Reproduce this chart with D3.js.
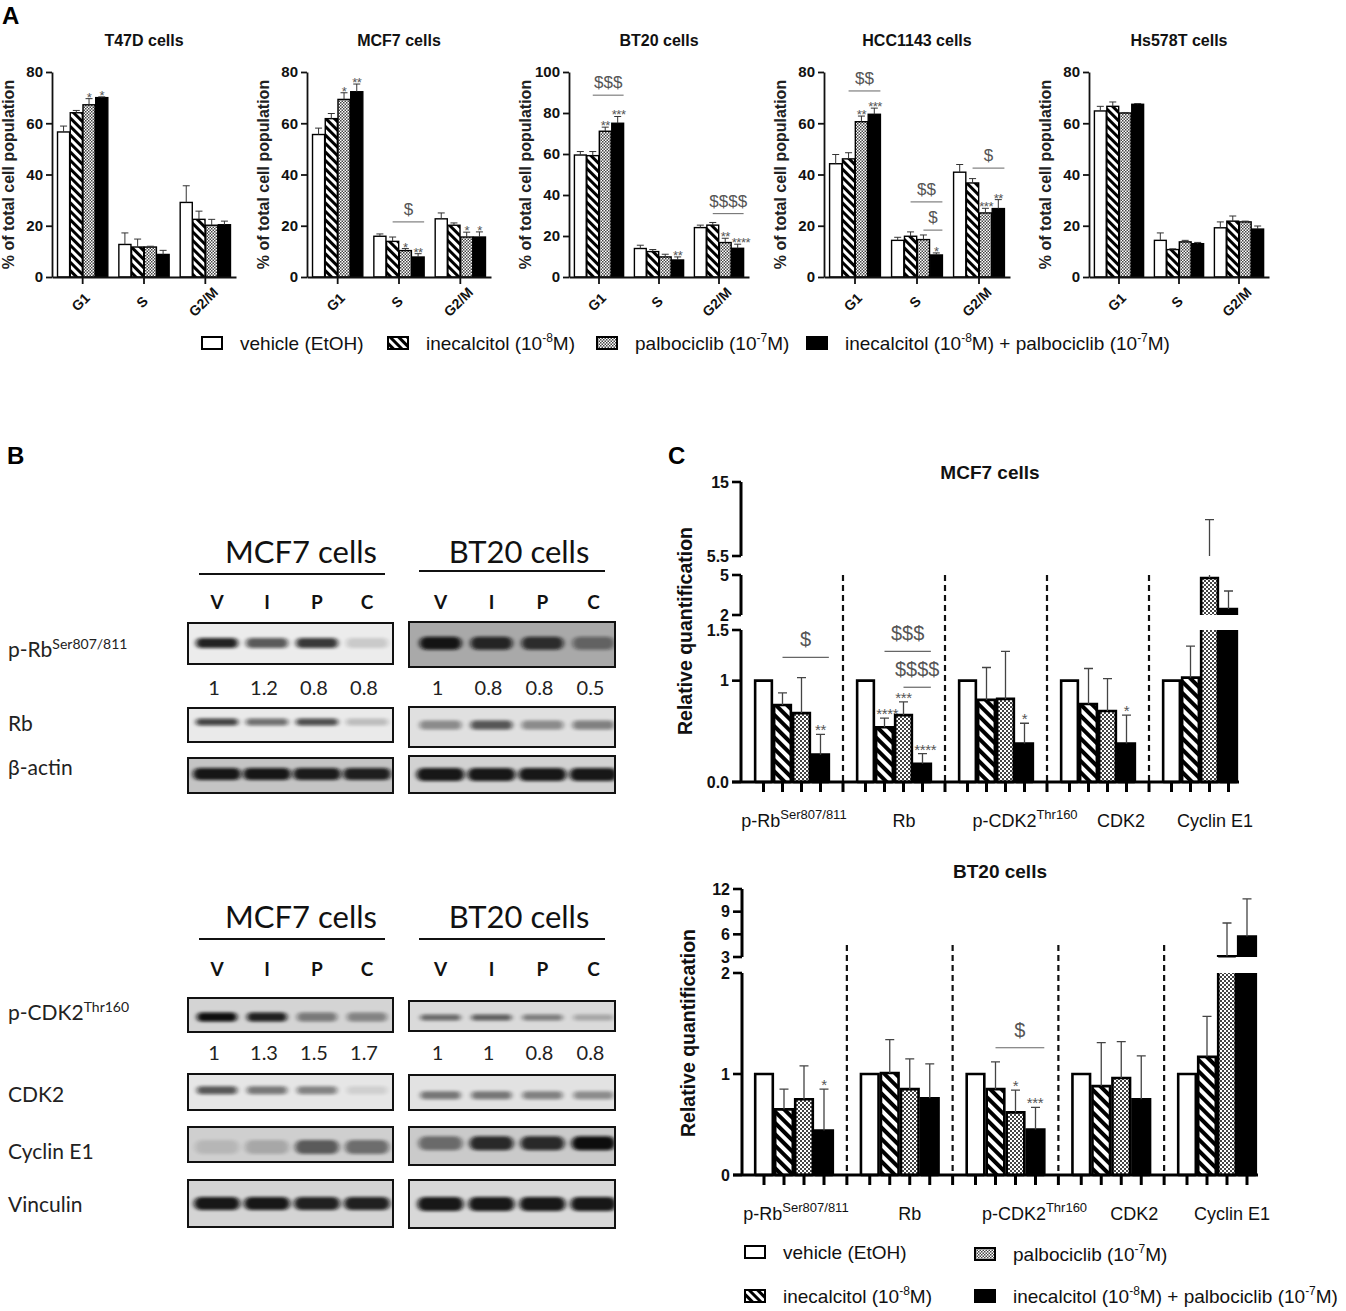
<!DOCTYPE html>
<html>
<meta charset="utf-8" />
<script src="https://d3js.org/d3.v7.min.js"></script>
<body>
<div id="fig"></div>
<script>
// ---------------- panel A data ----------------
var phases = ["G1", "S", "G2/M"];
var cellLinesA = ["T47D cells", "MCF7 cells", "BT20 cells", "HCC1143 cells", "Hs578T cells"];
var yMaxA = [80, 80, 100, 80, 80];

var t47dMean = [[56.6, 64.1, 67.2, 70.0], [12.7, 11.7, 11.7, 8.8], [29.1, 22.5, 20.2, 20.4]];
var t47dSem = [[2.3, 0.9, 2.4, 0.3], [4.5, 3.1, 0.3, 1.6], [6.5, 3.2, 2.3, 1.4]];
var t47dStars = [["", "", "*", "*"], ["", "", "", ""], ["", "", "", ""]];
var t47dDollars = [];

var mcf7Mean = [[55.6, 61.8, 69.3, 72.3], [15.9, 13.9, 10.3, 7.8], [22.7, 20.2, 15.6, 15.6]];
var mcf7Sem = [[2.5, 2.0, 2.6, 3.0], [0.9, 1.7, 0.8, 1.3], [2.3, 0.9, 1.9, 2.0]];
var mcf7Stars = [["", "", "*", "**"], ["", "", "*", "**"], ["", "", "*", "*"]];
var mcf7Dollars = [{phase: "S", from: 1, to: 3, y: 21.5, label: "$"}];

var bt20Mean = [[59.5, 59.2, 71.1, 75.0], [13.9, 12.4, 9.8, 8.3], [24.1, 25.3, 16.8, 14.0]];
var bt20Sem = [[1.7, 2.0, 2.0, 3.3], [1.6, 1.0, 1.3, 1.5], [1.2, 1.3, 2.1, 2.0]];
var bt20Stars = [["", "", "**", "***"], ["", "", "", "**"], ["", "", "**", "****"]];
var bt20Dollars = [{phase: "G1", from: 1, to: 3, y: 88.7, label: "$$$"},
                   {phase: "G2/M", from: 1, to: 3, y: 30.9, label: "$$$$"}];

var hccMean = [[44.2, 46.1, 60.6, 63.5], [14.3, 15.9, 14.6, 8.6], [40.9, 36.7, 25.0, 26.7]];
var hccSem = [[3.6, 2.4, 2.2, 2.4], [1.2, 1.7, 1.8, 0.8], [3.0, 1.7, 1.8, 3.5]];
var hccStars = [["", "", "**", "***"], ["", "", "", "*"], ["", "", "***", "**"]];
var hccDollars = [{phase: "G1", from: 1, to: 3, y: 72.6, label: "$$"},
                  {phase: "S", from: 1, to: 3, y: 29.3, label: "$$"},
                  {phase: "S", from: 2, to: 3, y: 18.3, label: "$"},
                  {phase: "G2/M", from: 1, to: 3, y: 42.5, label: "$"}];

var hsMean = [[64.8, 66.6, 64.0, 67.4], [14.3, 10.7, 13.7, 13.0], [19.2, 21.8, 21.5, 18.7]];
var hsSem = [[1.8, 1.7, 0.2, 0.3], [2.9, 0.3, 0.6, 0.5], [2.3, 2.0, 0.3, 1.2]];
var hsStars = [["", "", "", ""], ["", "", "", ""], ["", "", "", ""]];
var hsDollars = [];

var legendLabels = [["vehicle (EtOH)"], ["inecalcitol (10", "-8", "M)"], ["palbociclib (10", "-7", "M)"],
                    ["inecalcitol (10", "-8", "M) + palbociclib (10", "-7", "M)"]];

// ---------------- panel B data ----------------
var lanes = ["V", "I", "P", "C"];
var cellsB = ["MCF7 cells", "BT20 cells"];
// band darkness per lane (0 = no band, 1 = black)
var pRbMcf7 = [0.9, 0.65, 0.8, 0.15];
var pRbBt20 = [0.95, 0.85, 0.8, 0.45];
var rbMcf7 = [0.75, 0.55, 0.7, 0.2];
var rbBt20 = [0.4, 0.65, 0.4, 0.45];
var actinMcf7 = [0.95, 0.95, 0.92, 0.9];
var actinBt20 = [0.95, 0.95, 0.95, 0.95];
var pCdk2Mcf7 = [1, 0.9, 0.45, 0.4];
var pCdk2Bt20 = [0.55, 0.6, 0.45, 0.25];
var cdk2Mcf7 = [0.65, 0.5, 0.45, 0.1];
var cdk2Bt20 = [0.5, 0.5, 0.45, 0.4];
var cycMcf7 = [0.12, 0.2, 0.6, 0.5];
var cycBt20 = [0.5, 0.85, 0.85, 1];
var vincMcf7 = [0.95, 0.95, 0.9, 0.9];
var vincBt20 = [0.95, 0.95, 0.95, 0.95];
var pRbRatioMcf7 = ["1", "1.2", "0.8", "0.8"];
var pRbRatioBt20 = ["1", "0.8", "0.8", "0.5"];
var pCdk2RatioMcf7 = ["1", "1.3", "1.5", "1.7"];
var pCdk2RatioBt20 = ["1", "1", "0.8", "0.8"];

// ---------------- panel C data ----------------
var proteinsC = ["p-Rb", "Rb", "p-CDK2", "CDK2", "Cyclin E1"];
var proteinLabelsC = [["p-Rb", "Ser807/811"], ["Rb"], ["p-CDK2", "Thr160"], ["CDK2"], ["Cyclin E1"]];

var mcf7CMean = [[1, 0.76, 0.68, 0.27], [1, 0.54, 0.66, 0.18], [1, 0.81, 0.82, 0.38], [1, 0.77, 0.70, 0.38], [1, 1.03, 4.77, 2.45]];
var mcf7CSem = [[0, 0.12, 0.35, 0.20], [0, 0.09, 0.13, 0.10], [0, 0.32, 0.47, 0.20], [0, 0.35, 0.32, 0.28], [0, 0.31, 5.4, 1.35]];
var mcf7CStars = [["", "", "", "**"], ["", "****", "***", "****"], ["", "", "", "*"], ["", "", "", "*"], ["", "", "", ""]];
var mcf7CDollars = [{g: "p-Rb", from: 1, to: 3, y: 1.23, label: "$"},
                    {g: "Rb", from: 1, to: 3, y: 1.29, label: "$$$"},
                    {g: "Rb", from: 2, to: 3, y: 0.935, label: "$$$$"}];
var mcf7CDomains = [[0, 1.5], [2, 5], [5.5, 15]];
var mcf7CTicks = [[0, 1, 1.5], [2, 5], [5.5, 15]];
var mcf7CTickLabels = [["0.0", "1", "1.5"], ["2", "5"], ["5.5", "15"]];

var bt20CMean = [[1, 0.65, 0.75, 0.44], [1, 1.01, 0.85, 0.76], [1, 0.85, 0.62, 0.45], [1, 0.88, 0.96, 0.75], [1, 1.17, 3.1, 5.7]];
var bt20CSem = [[0, 0.20, 0.33, 0.41], [0, 0.33, 0.30, 0.34], [0, 0.27, 0.22, 0.22], [0, 0.43, 0.36, 0.43], [0, 0.40, 4.4, 5.0]];
var bt20CStars = [["", "", "", "*"], ["", "", "", ""], ["", "", "*", "***"], ["", "", "", ""], ["", "", "", ""]];
var bt20CDollars = [{g: "p-CDK2", from: 1, to: 3, y: 1.26, label: "$"}];
var bt20CDomains = [[0, 2], [3, 12]];
var bt20CTicks = [[0, 1, 2], [3, 6, 9, 12]];
var bt20CTickLabels = [["0", "1", "2"], ["3", "6", "9", "12"]];

// ---------------- setup ----------------
var svg = d3.select("#fig").append("svg")
  .attr("width", 1346).attr("height", 1311)
  .style("font-family", "'Liberation Sans', Arial, sans-serif");
var defs = svg.append("defs");

function hatchPattern(id, size, stripe) {
  var p = defs.append("pattern").attr("id", id).attr("patternUnits", "userSpaceOnUse")
    .attr("width", size).attr("height", size).attr("patternTransform", "rotate(-45)");
  p.append("rect").attr("width", size).attr("height", size).attr("fill", "#fff");
  p.append("rect").attr("width", stripe).attr("height", size).attr("fill", "#000");
}
function checkPattern(id, s, col) {
  var p = defs.append("pattern").attr("id", id).attr("patternUnits", "userSpaceOnUse")
    .attr("width", 2 * s).attr("height", 2 * s);
  p.append("rect").attr("width", 2 * s).attr("height", 2 * s).attr("fill", "#fff");
  p.append("rect").attr("width", s).attr("height", s).attr("fill", col);
  p.append("rect").attr("x", s).attr("y", s).attr("width", s).attr("height", s).attr("fill", col);
}
hatchPattern("hatchA", 6, 3);
hatchPattern("hatchC", 8, 4);
checkPattern("checkA", 1.5, "#444");
checkPattern("checkC", 2, "#444");
defs.append("filter").attr("id", "blur").attr("x", "-30%").attr("y", "-150%")
  .attr("width", "160%").attr("height", "400%")
  .append("feGaussianBlur").attr("stdDeviation", "2.5 1.8");

var fillA = ["#fff", "url(#hatchA)", "url(#checkA)", "#000"];
var fillC = ["#fff", "url(#hatchC)", "url(#checkC)", "#000"];

// text with superscripts: odd parts are raised
function rich(sel, parts, supSize, rise) {
  parts.forEach(function(t, k) {
    var ts = sel.append("tspan").text(t);
    if (k % 2 === 1) ts.attr("font-size", supSize).attr("dy", -rise);
    else if (k > 0) ts.attr("dy", rise);
  });
}

// long runs of stars start at the bar's left edge, short ones are centred
function starX(left, width, s) { return s.length >= 3 ? left : left + width / 2; }
function starAnchor(s) { return s.length >= 3 ? "start" : "middle"; }

function panelLetter(t, x, y) {
  svg.append("text").attr("x", x).attr("y", y).attr("font-size", 24).attr("font-weight", "bold").text(t);
}
panelLetter("A", 2, 24);
panelLetter("B", 7, 464);
panelLetter("C", 668, 464);

// ---------------- panel A ----------------
var A_TOP = 72, A_BOT = 277;
var axisXA = [52, 307, 569, 824, 1089];
var widthA = [184, 184, 180, 186, 180];
var meansA = [t47dMean, mcf7Mean, bt20Mean, hccMean, hsMean];
var semsA = [t47dSem, mcf7Sem, bt20Sem, hccSem, hsSem];
var starsA = [t47dStars, mcf7Stars, bt20Stars, hccStars, hsStars];
var dollarsA = [t47dDollars, mcf7Dollars, bt20Dollars, hccDollars, hsDollars];

cellLinesA.forEach(function(name, i) {
  var x0 = axisXA[i], w = widthA[i];
  var g = svg.append("g").attr("transform", "translate(" + x0 + ",0)");
  var x = d3.scaleBand().domain(phases).range([0, w]).paddingInner(0.18).paddingOuter(0.09);
  var xb = d3.scaleBand().domain(d3.range(4)).range([0, x.bandwidth()]).paddingInner(0.05);
  var y = d3.scaleLinear().domain([0, yMaxA[i]]).range([A_BOT, A_TOP]);

  var rows = [];
  phases.forEach(function(ph, p) {
    d3.range(4).forEach(function(t) {
      rows.push({ph: ph, t: t, v: meansA[i][p][t], e: semsA[i][p][t], s: starsA[i][p][t]});
    });
  });
  var bl = function(d) { return x(d.ph) + xb(d.t); };
  var cx = function(d) { return bl(d) + xb.bandwidth() / 2; };

  g.selectAll("rect.bar").data(rows).join("rect").attr("class", "bar")
    .attr("x", bl)
    .attr("y", function(d) { return y(d.v); })
    .attr("width", xb.bandwidth())
    .attr("height", function(d) { return A_BOT - y(d.v); })
    .attr("fill", function(d) { return fillA[d.t]; })
    .attr("stroke", "#000").attr("stroke-width", 1.4);

  g.selectAll("path.err").data(rows.filter(function(d) { return d.e > 0; })).join("path").attr("class", "err")
    .attr("d", function(d) {
      var c = cx(d), t = y(d.v + d.e);
      return "M" + c + "," + y(d.v) + "V" + t + "M" + (c - 3.5) + "," + t + "H" + (c + 3.5);
    })
    .attr("stroke", "#333").attr("stroke-width", 1).attr("fill", "none");

  g.selectAll("text.star").data(rows.filter(function(d) { return d.s; })).join("text").attr("class", "star")
    .attr("x", function(d) { return starX(bl(d), xb.bandwidth(), d.s); })
    .attr("y", function(d) { return y(d.v + d.e) + 3; })
    .attr("text-anchor", function(d) { return starAnchor(d.s); })
    .attr("font-size", 13).attr("letter-spacing", -0.5).attr("fill", "#555")
    .text(function(d) { return d.s; });

  g.selectAll("g.dollar").data(dollarsA[i]).join("g").attr("class", "dollar").each(function(d) {
    var xa = x(d.phase) + xb(d.from) + xb.bandwidth() / 2;
    var xe = x(d.phase) + xb(d.to) + xb.bandwidth();
    var sel = d3.select(this);
    sel.append("line").attr("x1", xa).attr("x2", xe).attr("y1", y(d.y)).attr("y2", y(d.y))
      .attr("stroke", "#666").attr("stroke-width", 1);
    sel.append("text").attr("x", (xa + xe) / 2).attr("y", y(d.y) - 7).attr("text-anchor", "middle")
      .attr("font-size", 17).attr("fill", "#555").text(d.label);
  });

  var ya = g.append("g")
    .call(d3.axisLeft(y).tickValues(d3.range(0, yMaxA[i] + 1, 20)).tickSize(6).tickSizeOuter(0).tickPadding(3));
  var xa = g.append("g").attr("transform", "translate(0," + A_BOT + ")")
    .call(d3.axisBottom(x).tickSize(7).tickSizeOuter(0));
  [ya, xa].forEach(function(a) {
    a.attr("font-family", null).attr("font-size", null);
    a.selectAll("path, line").attr("stroke", "#111").attr("stroke-width", 1.8);
    a.selectAll("text").attr("font-size", 15).attr("font-weight", "bold").attr("fill", "#111");
  });
  xa.selectAll("text").attr("x", 0).attr("y", 0).attr("dy", "0.35em").attr("text-anchor", "middle")
    .attr("font-size", 14).attr("transform", "translate(-2,25) rotate(-45)");

  svg.append("text").attr("transform", "translate(" + (x0 - 38) + "," + (A_TOP + A_BOT) / 2 + ") rotate(-90)")
    .attr("text-anchor", "middle").attr("font-size", 16).attr("font-weight", "bold").attr("fill", "#222")
    .text("% of total cell population");
  svg.append("text").attr("x", x0 + w / 2).attr("y", 46).attr("text-anchor", "middle")
    .attr("font-size", 16).attr("font-weight", "bold").attr("fill", "#111").text(name);
});

function legendItem(bx, by, fill, parts) {
  svg.append("rect").attr("x", bx).attr("y", by - 6).attr("width", 20).attr("height", 12)
    .attr("fill", fill).attr("stroke", "#000").attr("stroke-width", 2);
  var t = svg.append("text").attr("x", bx + 38).attr("y", by + 7).attr("font-size", 19).attr("fill", "#111");
  rich(t, parts, 12, 8);
}
var legAx = [202, 388, 597, 807];
legendLabels.forEach(function(l, k) { legendItem(legAx[k], 343, fillA[k], l); });

// ---------------- panel B ----------------
var fontB = "Lato, 'Open Sans', sans-serif";
var laneScaleB = [d3.scaleBand().domain(lanes).range([192, 392]), d3.scaleBand().domain(lanes).range([415, 619])];
var boxXB = [[188, 393], [409, 615]];

var blotRows = [
  {label: ["p-Rb", "Ser807/811"], ly: 657, box: [[623, 41], [622, 45]], bg: ["#ececec", "#a9a9a9"],
   bands: [pRbMcf7, pRbBt20], frac: [0.49, 0.47], bh: [10, 13], bw: 42},
  {label: ["Rb"], ly: 731, box: [[708, 34], [707, 40]], bg: ["#eaeaea", "#e0e0e0"],
   bands: [rbMcf7, rbBt20], frac: [0.41, 0.45], bh: [7, 9], bw: 42},
  {label: ["β-actin"], ly: 775, box: [[758, 35], [756, 37]], bg: ["#c4c4c4", "#d2d2d2"],
   bands: [actinMcf7, actinBt20], frac: [0.46, 0.5], bh: [12, 13], bw: 48},
  {label: ["p-CDK2", "Thr160"], ly: 1020, box: [[998, 34], [1001, 30]], bg: ["#d4d4d4", "#dadada"],
   bands: [pCdk2Mcf7, pCdk2Bt20], frac: [0.56, 0.55], bh: [9, 6], bw: 40},
  {label: ["CDK2"], ly: 1102, box: [[1074, 36], [1075, 35]], bg: ["#e6e6e6", "#e2e2e2"],
   bands: [cdk2Mcf7, cdk2Bt20], frac: [0.45, 0.58], bh: [8, 8], bw: 40},
  {label: ["Cyclin E1"], ly: 1159, box: [[1127, 35], [1127, 38]], bg: ["#cfcfcf", "#cacaca"],
   bands: [cycMcf7, cycBt20], frac: [0.57, 0.43], bh: [14, 14], bw: 44},
  {label: ["Vinculin"], ly: 1212, box: [[1180, 47], [1180, 48]], bg: ["#d4d4d4", "#d8d8d8"],
   bands: [vincMcf7, vincBt20], frac: [0.5, 0.5], bh: [13, 14], bw: 46}
];

blotRows.forEach(function(r, ri) {
  var lab = svg.append("text").attr("x", 8).attr("y", r.ly).attr("font-family", fontB)
    .attr("font-size", 21).attr("fill", "#222");
  rich(lab, r.label, 14, 8);
  [0, 1].forEach(function(s) {
    var bx = boxXB[s], by = r.box[s][0], bh = r.box[s][1];
    var id = "clipB" + ri + "_" + s;
    defs.append("clipPath").attr("id", id).append("rect")
      .attr("x", bx[0]).attr("y", by).attr("width", bx[1] - bx[0]).attr("height", bh);
    var g = svg.append("g").attr("clip-path", "url(#" + id + ")");
    g.append("rect").attr("x", bx[0]).attr("y", by).attr("width", bx[1] - bx[0]).attr("height", bh)
      .attr("fill", r.bg[s]);
    var lane = laneScaleB[s];
    g.selectAll("rect.band").data(lanes).join("rect").attr("class", "band")
      .attr("x", function(d) { return lane(d) + lane.bandwidth() / 2 - r.bw / 2; })
      .attr("y", by + bh * r.frac[s] - r.bh[s] / 2)
      .attr("width", r.bw).attr("height", r.bh[s]).attr("rx", r.bh[s] / 2)
      .attr("fill", "#0a0a0a").attr("opacity", function(d, k) { return r.bands[s][k]; })
      .attr("filter", "url(#blur)");
    svg.append("rect").attr("x", bx[0]).attr("y", by).attr("width", bx[1] - bx[0]).attr("height", bh)
      .attr("fill", "none").attr("stroke", "#111").attr("stroke-width", 2);
  });
});

var headersB = [{ty: 563, ly: [574, 571], vy: 609}, {ty: 928, ly: [939, 939], vy: 976}];
var headerLineX = [[199, 385], [419, 605]];
var headerTitleX = [301, 519];
headersB.forEach(function(h) {
  cellsB.forEach(function(c, s) {
    svg.append("text").attr("x", headerTitleX[s]).attr("y", h.ty).attr("text-anchor", "middle")
      .attr("font-family", fontB).attr("font-size", 31).attr("fill", "#111").text(c);
    svg.append("line").attr("x1", headerLineX[s][0]).attr("x2", headerLineX[s][1])
      .attr("y1", h.ly[s]).attr("y2", h.ly[s]).attr("stroke", "#111").attr("stroke-width", 2);
    var lane = laneScaleB[s];
    svg.selectAll(null).data(lanes).join("text")
      .attr("x", function(d) { return lane(d) + lane.bandwidth() / 2; }).attr("y", h.vy)
      .attr("text-anchor", "middle").attr("font-family", fontB).attr("font-weight", "bold")
      .attr("font-size", 19).attr("fill", "#111").text(function(d) { return d; });
  });
});

var ratioRows = [{y: 695, vals: [pRbRatioMcf7, pRbRatioBt20]}, {y: 1060, vals: [pCdk2RatioMcf7, pCdk2RatioBt20]}];
ratioRows.forEach(function(rr) {
  [0, 1].forEach(function(s) {
    var lane = laneScaleB[s];
    svg.selectAll(null).data(lanes).join("text")
      .attr("x", function(d) { return lane(d) + lane.bandwidth() / 2 - 3; }).attr("y", rr.y)
      .attr("text-anchor", "middle").attr("font-family", fontB).attr("font-size", 20).attr("fill", "#222")
      .text(function(d, k) { return rr.vals[s][k]; });
  });
});

// ---------------- panel C ----------------
var labelNudgeC = [2, 10, 29, 23, 15];

function chartC(o) {
  var gx = d3.scaleBand().domain(proteinsC).range(o.xr).paddingInner(o.pi).paddingOuter(0);
  var xb = d3.scaleBand().domain(d3.range(4)).range([0, gx.bandwidth()]).paddingInner(0.12).paddingOuter(0.06);
  var segs = o.domains.map(function(d, k) { return d3.scaleLinear().domain(d).range(o.ranges[k]); });
  var y0 = segs[0](0);
  var g = svg.append("g");
  var bw = xb.bandwidth();

  var rows = [];
  proteinsC.forEach(function(p, gi) {
    d3.range(4).forEach(function(t) {
      rows.push({p: p, t: t, v: o.mean[gi][t], e: o.sem[gi][t], s: o.stars[gi][t]});
    });
  });
  var bx = function(d) { return gx(d.p) + xb(d.t); };

  // dividers
  var divX = proteinsC.slice(0, 4).map(function(p) {
    return gx(p) + gx.bandwidth() + (gx.step() - gx.bandwidth()) / 2;
  });
  g.selectAll("line.div").data(divX).join("line").attr("class", "div")
    .attr("x1", function(d) { return d; }).attr("x2", function(d) { return d; })
    .attr("y1", o.divTop).attr("y2", y0)
    .attr("stroke", "#111").attr("stroke-width", 2.2).attr("stroke-dasharray", "6,4");

  rows.forEach(function(d) {
    var x = bx(d);
    segs.forEach(function(sc) {
      var dom = sc.domain();
      if (d.v > dom[0]) {
        var top = Math.min(d.v, dom[1]);
        var yb = sc(dom[0]), yt = sc(top);
        var capTop = d.v <= dom[1], capBot = dom[0] === 0;
        g.append("rect").attr("x", x).attr("y", yt).attr("width", bw).attr("height", yb - yt)
          .attr("fill", fillC[d.t]);
        var path = capTop ? "M" + x + "," + yb + "V" + yt + "H" + (x + bw) + "V" + yb
                          : "M" + x + "," + yb + "V" + yt + "M" + (x + bw) + "," + yt + "V" + yb;
        if (capBot) path += "M" + x + "," + yb + "H" + (x + bw);
        g.append("path").attr("d", path).attr("fill", "none").attr("stroke", "#000").attr("stroke-width", 2.6);
      }
      if (d.e > 0) {
        var e1 = d.v + d.e;
        if (e1 > dom[0] && d.v < dom[1]) {
          var a = Math.max(d.v, dom[0]), b = Math.min(e1, dom[1]);
          var c = x + bw / 2;
          var ep = "M" + c + "," + sc(a) + "V" + sc(b);
          if (e1 <= dom[1]) ep += "M" + (c - 4.5) + "," + sc(b) + "H" + (c + 4.5);
          g.append("path").attr("d", ep).attr("fill", "none").attr("stroke", "#444").attr("stroke-width", 1.3);
        }
      }
    });
  });

  var valToY = function(v) {
    for (var k = 0; k < segs.length; k++) {
      if (v <= segs[k].domain()[1]) return segs[k](Math.max(v, segs[k].domain()[0]));
    }
    return segs[segs.length - 1](v);
  };

  g.selectAll("text.star").data(rows.filter(function(d) { return d.s; })).join("text").attr("class", "star")
    .attr("x", function(d) { return starX(bx(d), bw, d.s); })
    .attr("y", function(d) { return valToY(d.v + d.e) + 1; })
    .attr("text-anchor", function(d) { return starAnchor(d.s); })
    .attr("font-size", 15).attr("letter-spacing", -0.3).attr("fill", "#555")
    .text(function(d) { return d.s; });

  o.dollars.forEach(function(d) {
    var xa = gx(d.g) + xb(d.from) + bw / 2, xe = gx(d.g) + xb(d.to) + bw;
    var yy = valToY(d.y);
    g.append("line").attr("x1", xa).attr("x2", xe).attr("y1", yy).attr("y2", yy)
      .attr("stroke", "#666").attr("stroke-width", 1.2);
    g.append("text").attr("x", (xa + xe) / 2).attr("y", yy - 11).attr("text-anchor", "middle")
      .attr("font-size", 20).attr("fill", "#555").text(d.label);
  });

  // y axis segments
  segs.forEach(function(sc, k) {
    var r = sc.range();
    g.append("line").attr("x1", o.ax).attr("x2", o.ax).attr("y1", r[0]).attr("y2", r[1])
      .attr("stroke", "#000").attr("stroke-width", 3);
    o.ticks[k].forEach(function(tv, j) {
      g.append("line").attr("x1", o.ax - 9).attr("x2", o.ax).attr("y1", sc(tv)).attr("y2", sc(tv))
        .attr("stroke", "#000").attr("stroke-width", 2.6);
      g.append("text").attr("x", o.ax - 12).attr("y", sc(tv)).attr("dy", "0.36em")
        .attr("text-anchor", "end").attr("font-size", 16).attr("font-weight", "bold").attr("fill", "#111")
        .text(o.tickLabels[k][j]);
    });
  });
  // x axis
  var xEnd = gx(proteinsC[4]) + gx.bandwidth() + 1;
  g.append("line").attr("x1", o.ax - 9).attr("x2", xEnd).attr("y1", y0).attr("y2", y0)
    .attr("stroke", "#000").attr("stroke-width", 3);
  var tickX = rows.map(function(d) { return bx(d) + bw / 2; }).concat(divX);
  g.selectAll("line.xt").data(tickX).join("line").attr("class", "xt")
    .attr("x1", function(d) { return d; }).attr("x2", function(d) { return d; })
    .attr("y1", y0).attr("y2", y0 + 10).attr("stroke", "#000").attr("stroke-width", 3);

  proteinLabelsC.forEach(function(parts, k) {
    var t = g.append("text").attr("x", gx(proteinsC[k]) + gx.bandwidth() / 2 + labelNudgeC[k])
      .attr("y", y0 + 45).attr("text-anchor", "middle").attr("font-size", 18).attr("fill", "#111");
    rich(t, parts, 13, 8);
  });

  svg.append("text").attr("transform", "translate(" + o.labX + "," + o.labY + ") rotate(-90)")
    .attr("text-anchor", "middle").attr("font-size", 19.5).attr("font-weight", "bold").attr("fill", "#111")
    .text("Relative quantification");
  svg.append("text").attr("x", (o.ax + xEnd) / 2).attr("y", o.titleY).attr("text-anchor", "middle")
    .attr("font-size", 19).attr("font-weight", "bold").attr("fill", "#111").text(o.title);
}

chartC({title: "MCF7 cells", titleY: 479, mean: mcf7CMean, sem: mcf7CSem, stars: mcf7CStars, dollars: mcf7CDollars,
        domains: mcf7CDomains, ticks: mcf7CTicks, tickLabels: mcf7CTickLabels,
        ranges: [[782, 630], [615, 575], [556, 482]], xr: [754, 1238], pi: 0.255, ax: 741,
        divTop: 575, labX: 692, labY: 631});
chartC({title: "BT20 cells", titleY: 878, mean: bt20CMean, sem: bt20CSem, stars: bt20CStars, dollars: bt20CDollars,
        domains: bt20CDomains, ticks: bt20CTicks, tickLabels: bt20CTickLabels,
        ranges: [[1175, 973], [957, 889]], xr: [754, 1257], pi: 0.2435, ax: 742,
        divTop: 945, labX: 695, labY: 1033});

var legCx = [745, 745, 975, 975], legCy = [1252, 1296, 1254, 1296];
legendLabels.forEach(function(l, k) { legendItem(legCx[k], legCy[k], fillA[k], l); });
</script>
</body>
<style>
  body { margin: 0; background: #fff; }
</style>
</html>
